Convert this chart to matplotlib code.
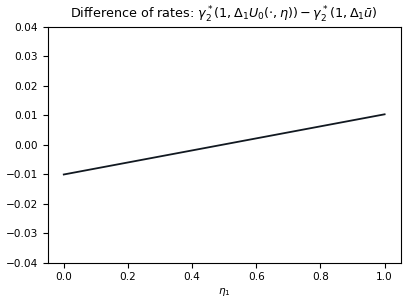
import matplotlib
matplotlib.use("Agg")
import matplotlib.pyplot as plt

# values
eta = [0.0, 0.25, 0.5, 0.75, 1.0]
diff = [-0.0100, -0.0049, 0.0002, 0.0053, 0.0104]

def main():
    plt.rcParams['font.size'] = 7.6
    fig = plt.figure(figsize=(4.08, 3.03), dpi=100)
    ax = fig.add_axes([0.117, 0.132, 0.865, 0.779])
    ax.plot(eta, diff, color='#111820', linewidth=1.3)
    ax.set_ylim(-0.04, 0.04)
    ax.set_xlabel(r'$\eta_1$', labelpad=3)
    ax.tick_params(axis='x', pad=3)
    ax.set_title(r'Difference of rates: $\gamma_2^*(1,\Delta_1 U_0(\cdot,\eta)) - \gamma_2^*(1,\Delta_1 \bar{u})$',
                 fontsize=9.2)
    fig.savefig('out.png', dpi=100)

if __name__ == "__main__":
    main()
